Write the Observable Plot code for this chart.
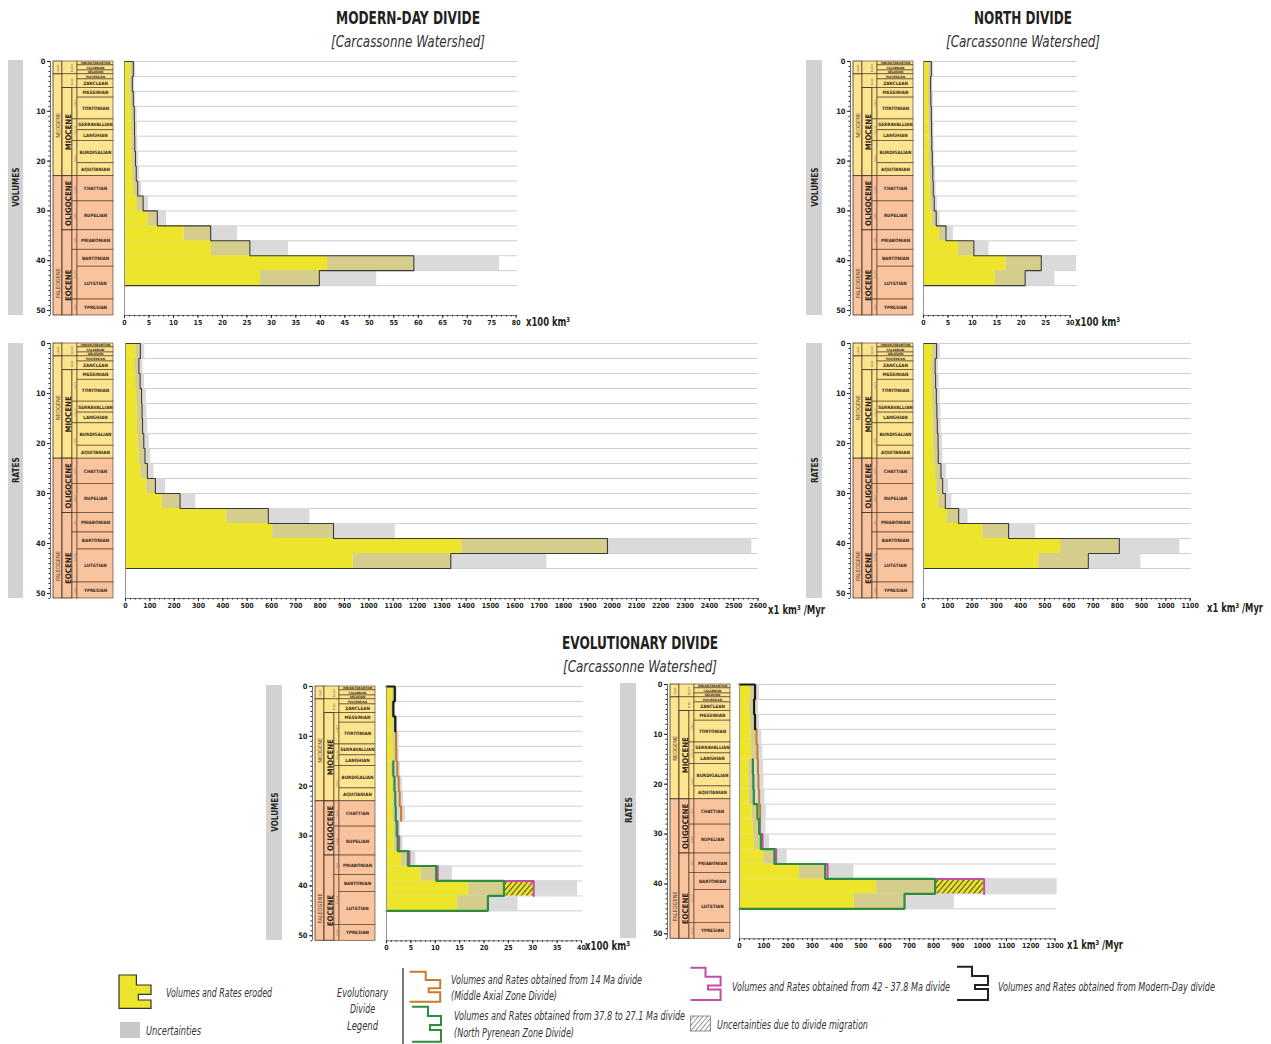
<!DOCTYPE html>
<html>
<head>
<meta charset="utf-8">
<script src="https://cdn.jsdelivr.net/npm/d3@7"></script>
<script src="https://cdn.jsdelivr.net/npm/@observablehq/plot@0.6"></script>
<style>
  html, body { margin: 0; padding: 0; background: #fff; }
  body { width: 1271px; height: 1044px; position: relative; overflow: hidden;
         font-family: "Liberation Sans Narrow", "DejaVu Sans Condensed", sans-serif; color: #231f20; }
  .side { position: absolute; background: #d2d2d2; display: flex; align-items: center; justify-content: center; }
  .side span { writing-mode: vertical-rl; transform: rotate(180deg) scaleY(0.85); font-weight: bold; font-size: 9.5px; color: #231f20; }
  svg.plot, figure { overflow: visible; }
</style>
</head>
<body>
<script>
// ===================== DATA =====================
// 3-Myr bins (Ma)
const binEdges = [0,3,6,9,12,15,18,21,24,27,30,33,36,39,42,45];

// Modern-Day divide: volumes (x100 km3) and rates (km3/Myr); eroded value, lower and upper uncertainty
const mdVol    = [1.8,1.6,1.8,2.0,2.05,2.1,2.25,2.4,2.7,3.8,6.7,17.6,25.6,59.1,39.8];
const mdVolMin = [1.3,1.1,1.3,1.4,1.45,1.5,1.6,1.7,1.9,2.5,4.8,12.2,17.8,41.5,27.8];
const mdVolMax = [2.3,2.1,2.3,2.6,2.65,2.7,2.9,3.1,3.5,4.9,8.6,23.1,33.5,76.6,51.5];
const mdRate    = [61,55,60,66,68,70,75,80,90,123,224,587,855,1981,1337];
const mdRateMin = [43,38,42,46,48,49,52,56,63,88,151,417,605,1383,936];
const mdRateMax = [79,72,78,86,88,91,98,104,117,165,289,758,1109,2574,1732];

// North divide
const nVol    = [1.6,1.45,1.5,1.6,1.65,1.7,1.8,1.9,2.0,2.2,2.6,4.6,10.3,24.1,20.8];
const nVolMin = [1.1,1.0,1.05,1.1,1.15,1.2,1.25,1.3,1.4,1.5,1.8,3.3,7.2,16.9,14.7];
const nVolMax = [2.1,1.9,2.0,2.1,2.15,2.2,2.3,2.5,2.6,2.9,3.4,6.1,13.4,31.3,26.9];
const nRate    = [54,48,50,53,55,57,60,61,72,79,90,145,351,808,680];
const nRateMin = [38,34,35,37,39,40,42,43,50,55,63,100,246,566,476];
const nRateMax = [70,62,65,69,72,74,78,80,94,103,117,184,462,1058,897];

// Evolutionary divide: outlines of each divide stage (null = not used in that bin)
const evVolModern  = [1.7,1.4,1.8,null,null,null,null,null,null,null,null,null,null,null,null];
const evVol14Ma    = [null,null,null,1.95,2.0,2.2,2.5,2.7,3.0,null,null,null,null,null,null];
const evVol42Ma    = [null,null,null,null,null,null,null,null,null,2.25,2.6,4.7,10.5,30.2,null];
const evVol37Ma    = [null,null,null,null,null,1.4,1.65,1.8,1.9,2.1,2.3,4.4,10.2,24.1,20.8];
const evVolMin = [1.2,1.0,1.3,1.3,1.4,1.0,1.2,1.3,1.3,1.5,1.6,3.1,7.1,16.9,14.6];
const evVolMid = [1.7,1.4,1.8,1.95,2.0,1.4,1.65,1.8,1.9,2.1,2.3,4.4,10.2,24.1,20.8];
const evVolMax = [2.2,1.8,2.3,2.6,2.6,2.9,3.3,3.5,3.9,2.9,3.4,6.0,13.5,39.2,27.0];
const evVolHatchFrom = [null,null,null,null,null,null,null,null,null,null,null,null,null,24.1,null];
const evVolHatchTo   = [null,null,null,null,null,null,null,null,null,null,null,null,null,30.2,null];

const evRateModern = [64,60,64,null,null,null,null,null,null,null,null,null,null,null,null];
const evRate14Ma   = [null,null,null,70,74,76,78,81,85,null,null,null,null,null,null];
const evRate42Ma   = [null,null,null,null,null,null,null,null,null,84,95,151,363,1008,null];
const evRate37Ma   = [null,null,null,null,null,55,57,59,74,81,88,144,353,806,680];
const evRateMin = [45,42,45,48,50,38,40,41,52,57,62,100,247,565,473];
const evRateMid = [64,60,64,70,74,55,57,59,74,81,88,144,353,806,680];
const evRateMax = [83,78,83,92,96,99,101,105,110,109,124,196,472,1309,885];
const evRateHatchFrom = [null,null,null,null,null,null,null,null,null,null,null,null,null,806,null];
const evRateHatchTo   = [null,null,null,null,null,null,null,null,null,null,null,null,null,1008,null];

// Geological time scale (Ma)
const stageNames = ["IONIAN-TARANTIAN","CALABRIAN","GELASIAN","PIACENZIAN","ZANCLEAN","MESSINIAN","TORTONIAN","SERRAVALLIAN","LANGHIAN","BURDIGALIAN","AQUITANIAN","CHATTIAN","RUPELIAN","PRIABONIAN","BARTONIAN","LUTETIAN","YPRESIAN"];
const stageAges  = [0,0.78,1.8,2.58,3.6,5.33,7.25,11.63,13.82,15.97,20.44,23.03,28.1,33.9,37.8,41.2,47.8,56.0];
const epochNames = ["PLEIST.","PLIOC.","MIOCENE","OLIGOCENE","EOCENE"];
const epochAges  = [0,2.58,5.33,23.03,33.9,56.0];
const subEpochNames = ["upper","middle","lower","upper","lower","late","middle","early"];
const subEpochAges  = [5.33,11.63,15.97,23.03,28.1,33.9,37.8,47.8,56.0];
const periodNames = ["QUAT.","NEOGENE","PALEOGENE"];
const periodAges  = [0,2.58,23.03,66.0];

// ===================== STYLE =====================
const FONT = '"Liberation Sans Narrow","DejaVu Sans Condensed",sans-serif';
const YELLOW = "#ece52b", KHAKI = "#d5cd8c", GREY = "#dadada", OUTLINE = "#3a3a3a", GRID = "#c9c9c9";
const NEO_FILL = "#fde48f", PAL_FILL = "#f8c39d", BORDER = "#4a3526";
const C_BLACK = "#1b1b1b", C_ORANGE = "#c97a2c", C_MAGENTA = "#c24fa5", C_GREEN = "#2e8d3d";
const TS_MAX = 51;

function put(el, left, top) {
  el.style.position = "absolute";
  el.style.left = left + "px";
  el.style.top = top + "px";
  document.body.appendChild(el);
  return el;
}
function html(str, left, top) {
  const d = document.createElement("div");
  d.innerHTML = str;
  return put(d.firstElementChild, left, top);
}

// ---------- geological time-scale column ----------
function timescale(left, top, pxPerMa) {
  const mT = 4, mL = 30, W = 63;
  const A = [3, 12], B = [12, 22], C = [22, 27], D = [27, 63];
  const cl = a => Math.min(a, TS_MAX);
  const fillOf = t => (t < 23.03 ? NEO_FILL : PAL_FILL);
  const mk = (names, ages) => names.map((n, i) => ({n, t0: ages[i], t1: cl(ages[i + 1]), m: (ages[i] + ages[i + 1]) / 2, ms: (ages[i] + cl(ages[i + 1])) / 2}));
  const periods = mk(periodNames, periodAges);
  const epochs = mk(epochNames, epochAges);
  const subs = mk(subEpochNames, subEpochAges);
  const stages = mk(stageNames, stageAges);
  const bigEp = epochs.filter(d => d.t0 >= 5.33), smallEp = epochs.filter(d => d.t0 < 5.33);
  const thin = stages.filter(d => d.t1 - d.t0 < 1.1), thick = stages.filter(d => d.t1 - d.t0 >= 1.1);
  const h = mT + TS_MAX * pxPerMa;
  const rectOpts = {y1: "t0", y2: "t1", fill: d => fillOf(d.t0), stroke: BORDER, strokeWidth: 0.6};
  const svg = Plot.plot({
    width: mL + W + 3, height: h + 4,
    marginLeft: mL, marginTop: mT, marginBottom: 4, marginRight: 3,
    x: {domain: [0, W], range: [mL, mL + W], axis: null},
    y: {domain: [0, TS_MAX], range: [mT, h]},
    color: {type: "identity"},
    style: {fontFamily: FONT, background: "transparent", color: "#231f20", overflow: "visible"},
    marks: [
      Plot.rect(periods, {...rectOpts, x1: A[0], x2: A[1], strokeWidth: 0.8}),
      Plot.rect(smallEp, {...rectOpts, x1: B[0], x2: C[1]}),
      Plot.rect(bigEp, {...rectOpts, x1: B[0], x2: B[1], strokeWidth: 0.9}),
      Plot.rect(subs, {...rectOpts, x1: C[0], x2: C[1]}),
      Plot.rect(stages, {...rectOpts, x1: D[0], x2: D[1]}),
      Plot.text(periods.filter(d => d.n !== "QUAT."), {x: (A[0] + A[1]) / 2, y: "m", text: "n", rotate: -90, fontSize: 5.6, fill: "#5b4535"}),
      Plot.text(periods.filter(d => d.n === "QUAT."), {x: (A[0] + A[1]) / 2, y: "ms", text: "n", rotate: -90, fontSize: 2.8, fill: "#5b4535"}),
      Plot.text(bigEp, {x: (B[0] + B[1]) / 2 + 0.5, y: "m", text: "n", rotate: -90, fontSize: 7.8, fontWeight: "bold", fill: "#2a1e16"}),
      Plot.text(smallEp, {x: (B[0] + C[1]) / 2 + 2, y: "ms", text: "n", rotate: -90, fontSize: 2.7, fill: "#5b4535"}),
      Plot.text(subs, {x: (C[0] + C[1]) / 2, y: "ms", text: "n", rotate: -90, fontSize: 2.8, fill: "#8a7565"}),
      Plot.text(thick, {x: (D[0] + D[1]) / 2, y: "ms", text: "n", fontSize: 4.6, fontWeight: "bold", fill: "#3a2a1c"}),
      Plot.text(thin, {x: (D[0] + D[1]) / 2, y: "ms", text: "n", fontSize: 3.1, fontWeight: "bold", fill: "#3a2a1c"}),
      Plot.ruleX([0], {y1: 0, y2: TS_MAX, stroke: "#444", strokeWidth: 0.8}),
      Plot.axisY({anchor: "left", ticks: [0, 10, 20, 30, 40, 50], tickSize: 3, tickPadding: 2, fontSize: 7.5, fontWeight: "bold"}),
      Plot.axisY({anchor: "left", ticks: d3.range(0, TS_MAX + 1, 1), tickSize: 1.5, tickFormat: () => ""})
    ]
  });
  put(svg, left - mL, top - mT);
}

// ---------- bars panel ----------
let hatchCount = 0;
function outlinePoints(values) {
  const pts = [];
  values.forEach((v, i) => {
    if (v == null) return;
    if (pts.length === 0 && i === 0) pts.push({x: 0, y: binEdges[0]});
    pts.push({x: v, y: binEdges[i]}, {x: v, y: binEdges[i + 1]});
  });
  if (values[values.length - 1] != null) pts.push({x: 0, y: binEdges[binEdges.length - 1]});
  return pts;
}
function bars(cfg) {
  const {x0, y0, pxPerMa, xMax, pxPerUnit, gridMax, tickStep, minorStep, lo, mid, hi, hatchFrom, hatchTo, outlines} = cfg;
  const mT = 4, mL = 10, mB = 18, mR = 30;
  const plotW = xMax * pxPerUnit, plotH = TS_MAX * pxPerMa;
  const bins = lo.map((_, i) => ({t0: binEdges[i], t1: binEdges[i + 1], lo: lo[i], mid: mid[i], hi: hi[i],
    hf: hatchFrom ? hatchFrom[i] : null, ht: hatchTo ? hatchTo[i] : null}));
  const hb = bins.filter(d => d.hf != null);
  const hid = "hatch" + (hatchCount++);
  const marks = [
    Plot.ruleY(binEdges, {x1: 0, x2: gridMax, stroke: GRID, strokeWidth: 0.9}),
    Plot.rectX(bins, {y1: "t0", y2: "t1", x1: "lo", x2: "hi", fill: GREY}),
    Plot.rectX(bins, {y1: "t0", y2: "t1", x1: 0, x2: "lo", fill: YELLOW}),
    Plot.rectX(bins, {y1: "t0", y2: "t1", x1: "lo", x2: "mid", fill: KHAKI})
  ];
  if (hb.length) {
    marks.push(Plot.rectX(hb, {y1: "t0", y2: "t1", x1: "hf", x2: "ht", fill: `url(#${hid})`}));
  }
  outlines.forEach(o => marks.push(Plot.line(outlinePoints(o.values), {x: "x", y: "y", stroke: o.stroke, strokeWidth: o.width, strokeLinejoin: "miter"})));
  marks.push(
    Plot.ruleX([0], {y1: 0, y2: TS_MAX, stroke: "#8a8a8a", strokeWidth: 0.9}),
    Plot.ruleY([TS_MAX], {x1: 0, x2: xMax, stroke: "#555", strokeWidth: 0.8}),
    Plot.axisX({anchor: "bottom", ticks: d3.range(0, xMax + 1e-9, tickStep), tickSize: 3, tickPadding: 1.5, fontSize: 7, fontWeight: "bold", tickFormat: d => String(d)}),
    Plot.axisX({anchor: "bottom", ticks: d3.range(0, xMax + 1e-9, minorStep), tickSize: 1.5, tickFormat: () => ""})
  );
  const svg = Plot.plot({
    width: mL + plotW + mR, height: mT + plotH + mB,
    marginLeft: mL, marginRight: mR, marginTop: mT, marginBottom: mB,
    x: {domain: [0, xMax], range: [mL, mL + plotW]},
    y: {domain: [0, TS_MAX], range: [mT, mT + plotH], axis: null},
    style: {fontFamily: FONT, background: "transparent", color: "#231f20", overflow: "visible"},
    marks
  });
  if (hb.length) {
    const defs = document.createElementNS("http://www.w3.org/2000/svg", "defs");
    defs.innerHTML = `<pattern id="${hid}" patternUnits="userSpaceOnUse" width="4" height="4" patternTransform="rotate(40)">
      <rect width="4" height="4" fill="${YELLOW}"/><line x1="0.6" y1="0" x2="0.6" y2="4" stroke="#2a2a2a" stroke-width="0.9"/></pattern>`;
    svg.insertBefore(defs, svg.firstChild);
  }
  put(svg, x0 - mL, y0 - mT);
}

// ===================== LAYOUT =====================
// side labels
const sides = [["VOLUMES", 8, 60, 15], ["RATES", 8, 343, 15], ["VOLUMES", 806, 60, 16], ["RATES", 806, 343, 16], ["VOLUMES", 266, 685, 16], ["RATES", 620, 683, 16]];
sides.forEach(([t, x, y, w]) => {
  const el = html(`<div class="side"><span>${t}</span></div>`, x, y);
  el.style.width = w + "px"; el.style.height = "255px";
});

// time scales
timescale(50, 61, 4.98);
timescale(50, 343, 5.0);
timescale(849.5, 61, 4.98);
timescale(849.5, 343, 5.0);
timescale(311.7, 685.7, 4.986);
timescale(666.7, 684, 4.986);

// bars
const mdOutline = v => [{values: v, stroke: OUTLINE, width: 1.1}];
bars({x0: 124.3, y0: 61, pxPerMa: 4.98, xMax: 80, pxPerUnit: 4.896, gridMax: 80.3, tickStep: 5, minorStep: 1,
      lo: mdVolMin, mid: mdVol, hi: mdVolMax, outlines: mdOutline(mdVol)});
bars({x0: 124.5, y0: 343, pxPerMa: 5.0, xMax: 2600, pxPerUnit: 0.2433, gridMax: 2600, tickStep: 100, minorStep: 20,
      lo: mdRateMin, mid: mdRate, hi: mdRateMax, outlines: mdOutline(mdRate)});
bars({x0: 922.7, y0: 61, pxPerMa: 4.98, xMax: 30, pxPerUnit: 4.887, gridMax: 31.5, tickStep: 5, minorStep: 1,
      lo: nVolMin, mid: nVol, hi: nVolMax, outlines: mdOutline(nVol)});
bars({x0: 923, y0: 343, pxPerMa: 5.0, xMax: 1100, pxPerUnit: 0.2424, gridMax: 1105, tickStep: 100, minorStep: 20,
      lo: nRateMin, mid: nRate, hi: nRateMax, outlines: mdOutline(nRate)});
const evoOutlines = (modern, m14, m42, m37) => [
  {values: m14, stroke: C_ORANGE, width: 2},
  {values: m42, stroke: C_MAGENTA, width: 2},
  {values: modern, stroke: C_BLACK, width: 2.2},
  {values: m37, stroke: C_GREEN, width: 2.2}
];
bars({x0: 386, y0: 685.7, pxPerMa: 4.986, xMax: 40, pxPerUnit: 4.875, gridMax: 40.3, tickStep: 5, minorStep: 1,
      lo: evVolMin, mid: evVolMid, hi: evVolMax, hatchFrom: evVolHatchFrom, hatchTo: evVolHatchTo,
      outlines: evoOutlines(evVolModern, evVol14Ma, evVol42Ma, evVol37Ma)});
bars({x0: 739.3, y0: 684, pxPerMa: 4.986, xMax: 1300, pxPerUnit: 0.2427, gridMax: 1307, tickStep: 100, minorStep: 20,
      lo: evRateMin, mid: evRateMid, hi: evRateMax, hatchFrom: evRateHatchFrom, hatchTo: evRateHatchTo,
      outlines: evoOutlines(evRateModern, evRate14Ma, evRate42Ma, evRate37Ma)});

// texts, titles, units and legend (overlay)
const T = (x, y, len, s) => `<text x="${x}" y="${y}" textLength="${len}" lengthAdjust="spacingAndGlyphs">${s}</text>`;
// stretched text: small natural width, scaled vertically
const TS = (x, y, len, s, fs, sy) => `<text transform="translate(${x},${y}) scale(1,${sy})" x="0" y="0" font-size="${fs}" textLength="${len}" lengthAdjust="spacingAndGlyphs">${s}</text>`;
const overlay = `<svg width="1271" height="1044" xmlns="http://www.w3.org/2000/svg" style="font-family:${FONT};pointer-events:none;">
  <defs><pattern id="legHatch" patternUnits="userSpaceOnUse" width="3.5" height="3.5" patternTransform="rotate(40)">
    <rect width="3.5" height="3.5" fill="#fff"/><line x1="0.5" y1="0" x2="0.5" y2="3.5" stroke="#777" stroke-width="0.8"/></pattern></defs>
  <g font-weight="bold" font-size="18.5" fill="#231f20">
    ${T(336, 24, 144, "MODERN-DAY DIVIDE")}
    ${T(974, 24, 98, "NORTH DIVIDE")}
    ${T(562, 649, 156, "EVOLUTIONARY DIVIDE")}
  </g>
  <g font-style="italic" font-size="16.5" fill="#333">
    ${T(331, 47, 154, "[Carcassonne Watershed]")}
    ${T(946, 47, 154, "[Carcassonne Watershed]")}
    ${T(563, 672, 154, "[Carcassonne Watershed]")}
  </g>
  <g font-weight="bold" fill="#231f20">
    ${TS(526, 326, 44, "x100 km³", 9.5, 1.35)}
    ${TS(768, 614, 57, "x1 km³ /Myr", 9.5, 1.35)}
    ${TS(1075, 326, 45, "x100 km³", 9.5, 1.35)}
    ${TS(1207, 612, 56, "x1 km³ /Myr", 9.5, 1.35)}
    ${TS(585, 950, 45, "x100 km³", 9.5, 1.35)}
    ${TS(1067, 949, 56, "x1 km³ /Myr", 9.5, 1.35)}
  </g>
  <g transform="translate(0,955)">
  <path d="M119,20 H136.4 V30 H151 V39.3 H138.3 V45 H151 V53.3 H119 Z" fill="${YELLOW}" stroke="#333" stroke-width="1.2"/>
  <rect x="120" y="67" width="20" height="16" fill="#c8c8c8"/>
  <line x1="403" y1="13" x2="403" y2="89" stroke="#222" stroke-width="1.2"/>
  <path d="M409.6,16.7 H425.7 V25 H440.2 V33.3 H428.7 V37.3 H440.2 V46.7 H409.6" fill="none" stroke="${C_ORANGE}" stroke-width="2"/>
  <path d="M412,51.7 H428 V61 H441 V70 H430 V75 H441 V86.7 H412" fill="none" stroke="${C_GREEN}" stroke-width="2"/>
  <path d="M690.5,12.7 H705.5 V21.7 H720.6 V30.5 H708 V34.5 H720.6 V45 H690.5" fill="none" stroke="${C_MAGENTA}" stroke-width="2"/>
  <rect x="690.5" y="61" width="20" height="15" fill="url(#legHatch)" stroke="#777" stroke-width="0.8"/>
  <path d="M957,11.7 H972 V21 H988 V30 H975 V34 H988 V45 H957" fill="none" stroke="#222" stroke-width="2"/>
  <g font-style="italic" fill="#333">
    ${TS(166, 42, 106, "Volumes and Rates eroded", 10.5, 1.15)}
    ${TS(146, 80, 55, "Uncertainties", 10.5, 1.15)}
    ${TS(337, 42, 51, "Evolutionary", 10.5, 1.15)}
    ${TS(350, 58, 25, "Divide", 10.5, 1.15)}
    ${TS(347, 75, 31, "Legend", 10.5, 1.15)}
    ${TS(451, 29, 191, "Volumes and Rates obtained from 14 Ma divide", 10.5, 1.15)}
    ${TS(451, 45, 106, "(Middle Axial Zone Divide)", 10.5, 1.15)}
    ${TS(454, 65, 231, "Volumes and Rates obtained from 37.8 to 27.1  Ma divide", 10.5, 1.15)}
    ${TS(454, 82, 120, "(North Pyrenean Zone Divide)", 10.5, 1.15)}
    ${TS(732, 36, 218, "Volumes and Rates obtained from 42 - 37.8 Ma divide", 10.5, 1.15)}
    ${TS(717, 74, 151, "Uncertainties due to divide migration", 10.5, 1.15)}
    ${TS(998, 36, 217, "Volumes and Rates obtained from Modern-Day divide", 10, 1.2)}
  </g>
  </g>
</svg>`;
html(overlay, 0, 0);
</script>
</body>
</html>
